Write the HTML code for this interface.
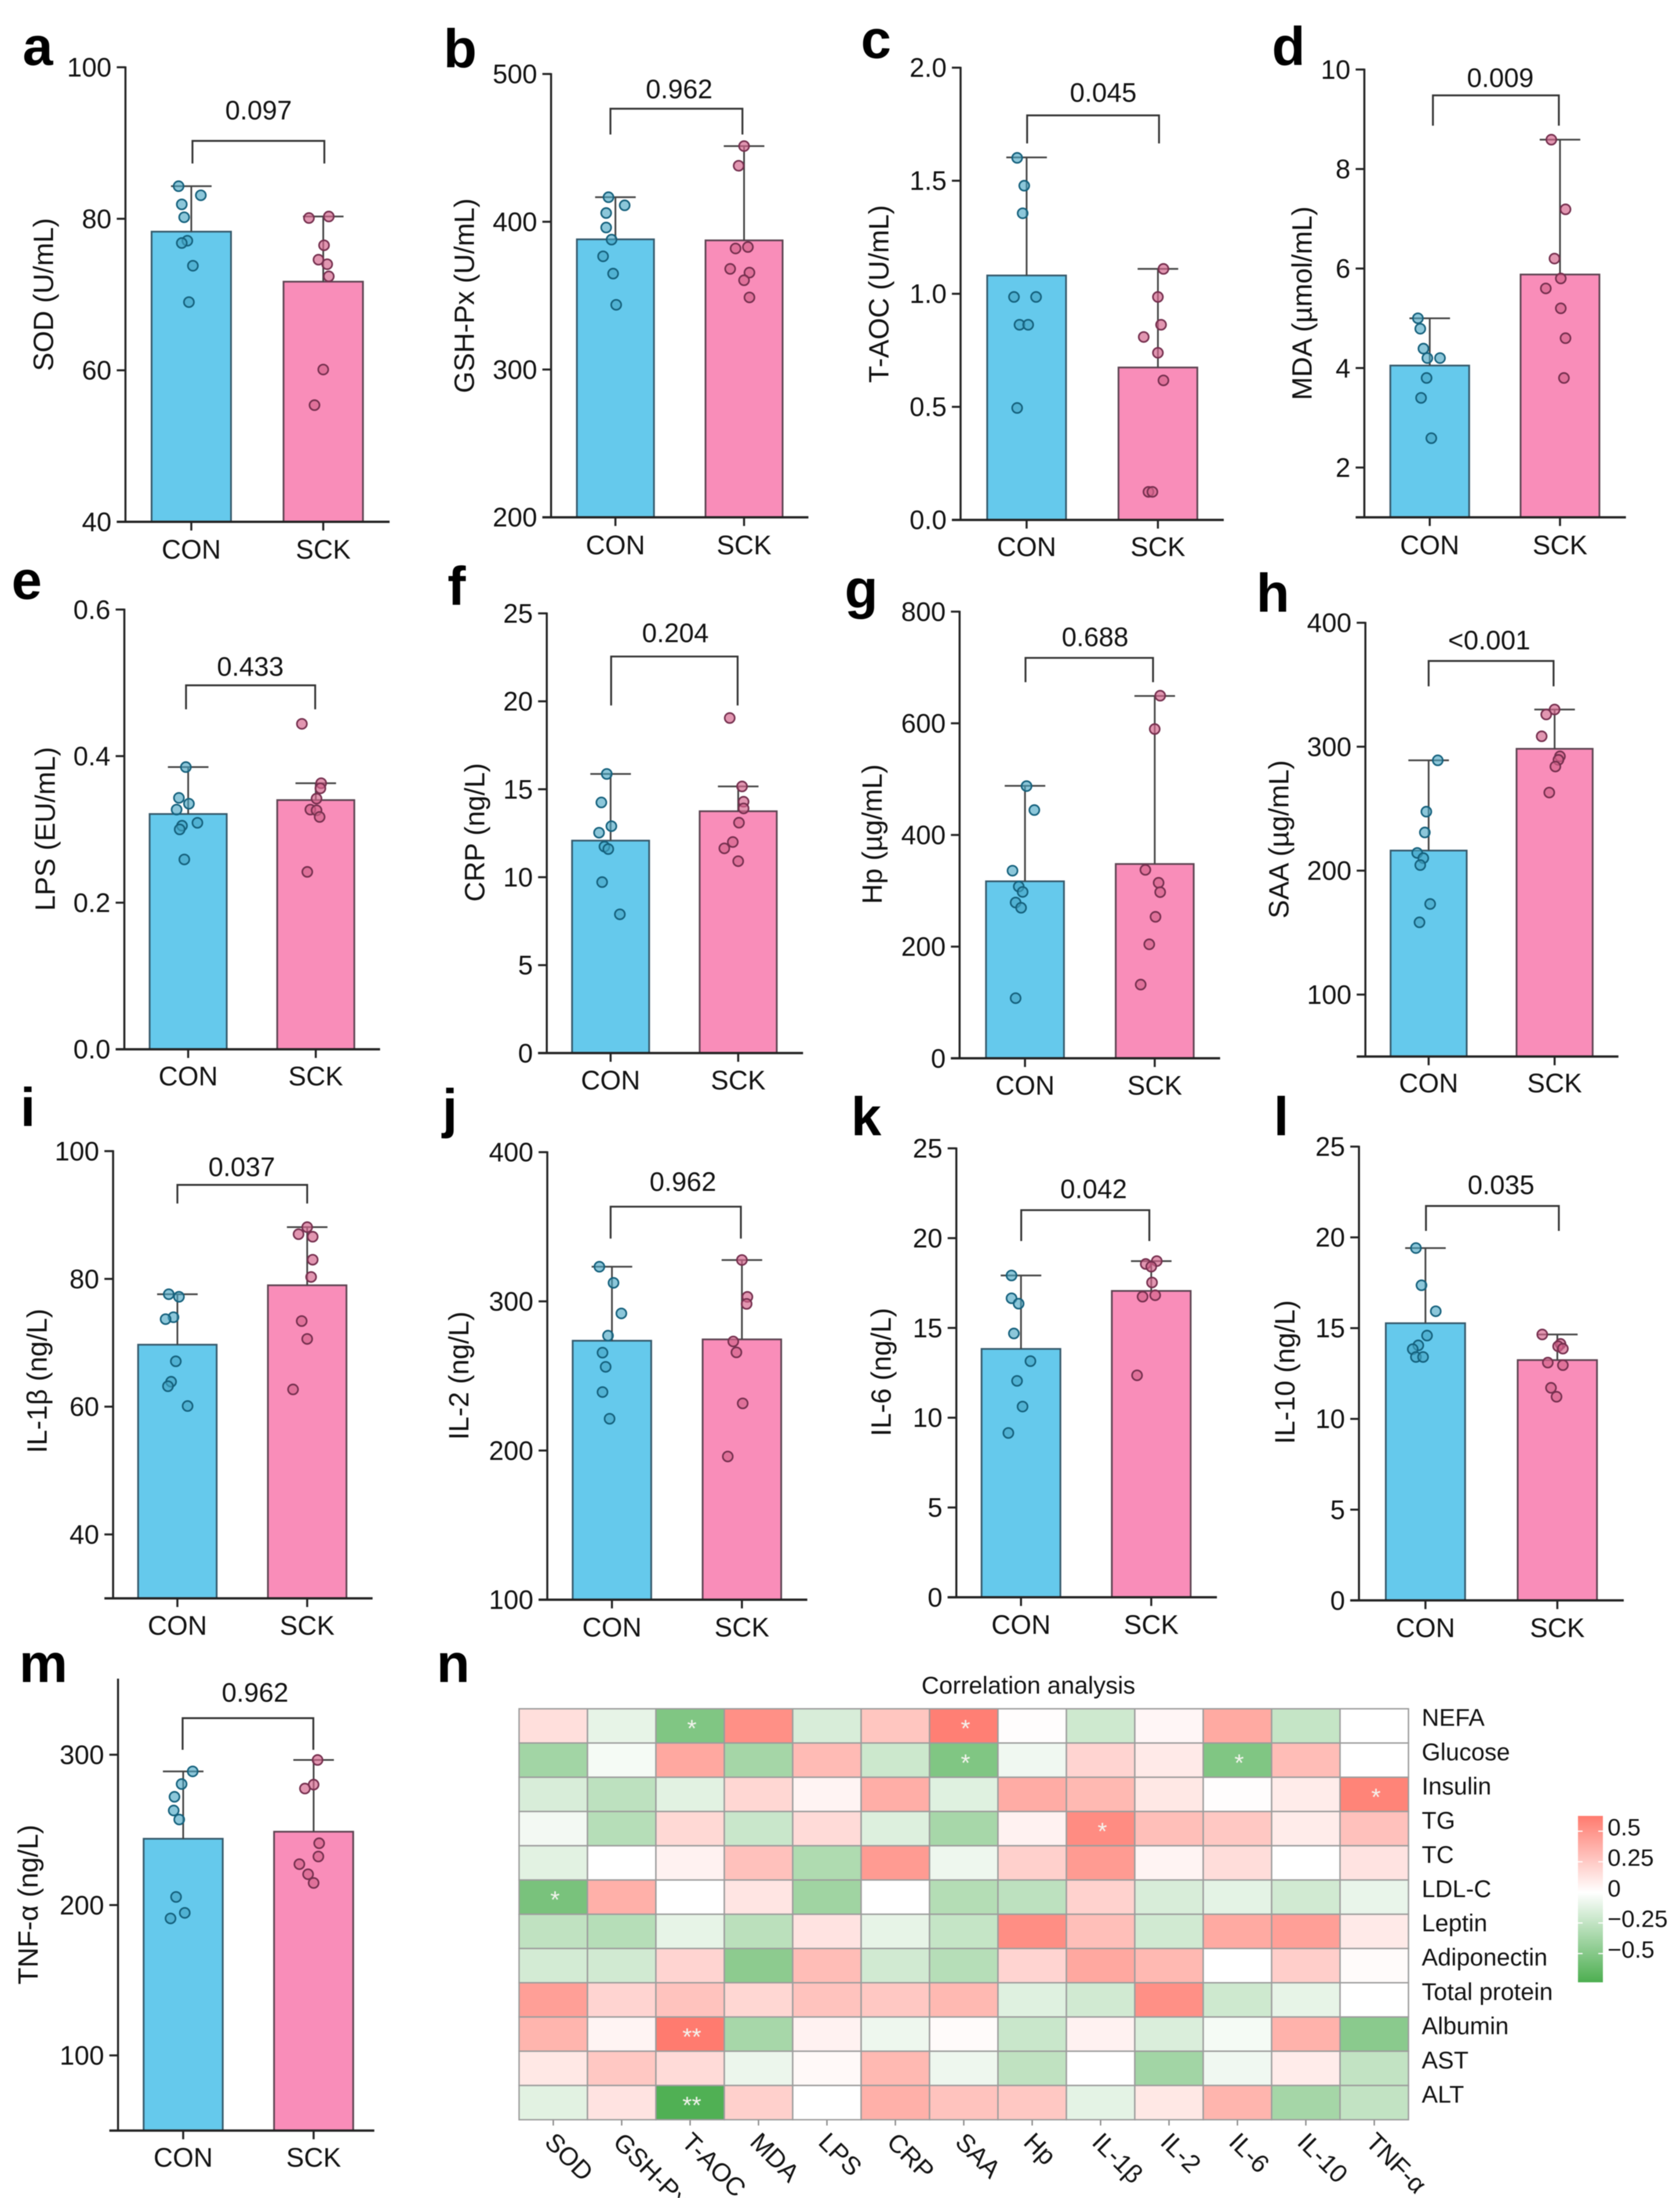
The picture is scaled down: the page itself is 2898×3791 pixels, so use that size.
<!DOCTYPE html>
<html lang="en">
<head>
<meta charset="utf-8">
<title>Serum indicators and correlation analysis</title>
<style>
html,body{margin:0;padding:0;background:#fff;}
svg{display:block;filter:blur(0.7px);}
text{font-family:"Liberation Sans","DejaVu Sans",sans-serif;fill:#111;}
</style>
</head>
<body>
<svg id="figure" xmlns="http://www.w3.org/2000/svg" width="2898" height="3791" viewBox="0 0 2898 3791"></svg>
<script>
const categories = ['CON', 'SCK'];

// a SOD
const sodTicks = [40, 60, 80, 100];
const sodDomain = [40, 100];
const sodMeans = [78.3, 71.7];
const sodErrorTops = [84.3, 80.3];
const sodConPoints = [84.3, 83.1, 81.9, 80.2, 77.1, 76.8, 73.8, 69.0];
const sodSckPoints = [80.1, 80.3, 76.5, 74.6, 74.0, 72.4, 60.1, 55.4];
const sodConJitter = [-.16, .12, -.12, -.09, -.05, -.12, .02, -.03];
const sodSckJitter = [-.18, .07, .01, -.06, .05, .07, 0, -.11];

// b GSH-Px
const gshTicks = [200, 300, 400, 500];
const gshDomain = [200, 500];
const gshMeans = [388.1, 387.4];
const gshErrorTops = [416.6, 451.2];
const gshConPoints = [416.6, 411.1, 405.9, 396.1, 387.9, 376.6, 364.9, 343.8];
const gshSckPoints = [451.2, 437.9, 381.9, 382.9, 368.1, 365.6, 360.4, 348.8];
const gshConJitter = [-.09, .12, -.12, -.12, -.05, -.16, -.03, .01];
const gshSckJitter = [0, -.07, -.11, .05, -.18, .07, 0, .07];

// c T-AOC
const taocTicks = [0, 0.5, 1, 1.5, 2];
const taocDomain = [0, 2];
const taocMeans = [1.081, 0.674];
const taocErrorTops = [1.603, 1.110];
const taocConPoints = [1.601, 1.478, 1.356, .986, .986, .863, .863, .495];
const taocSckPoints = [1.110, .986, .863, .809, .739, .617, .124, .124];
const taocConJitter = [-.12, -.03, -.05, -.16, .12, -.09, .02, -.12];
const taocSckJitter = [.07, 0, .04, -.18, 0, .07, -.12, -.07];

// d MDA
const mdaTicks = [2, 4, 6, 8, 10];
const mdaDomain = [1, 10];
const mdaMeans = [4.05, 5.88];
const mdaErrorTops = [5.0, 8.59];
const mdaConPoints = [5.0, 4.79, 4.39, 4.20, 4.20, 3.80, 3.40, 2.59];
const mdaSckPoints = [8.59, 7.19, 6.20, 5.80, 5.60, 5.20, 4.60, 3.80];
const mdaConJitter = [-.15, -.12, -.08, -.03, .13, -.04, -.11, .02];
const mdaSckJitter = [-.11, .07, -.07, .01, -.18, .01, .07, .05];

// e LPS
const lpsTicks = [0, 0.2, 0.4, 0.6];
const lpsDomain = [0, 0.6];
const lpsMeans = [.321, .340];
const lpsErrorTops = [.385, .363];
const lpsConPoints = [.385, .343, .335, .327, .305, .309, .300, .259];
const lpsSckPoints = [.444, .363, .356, .342, .327, .326, .317, .242];
const lpsConJitter = [-.03, -.12, .01, -.15, -.08, .12, -.11, -.05];
const lpsSckJitter = [-.18, .07, .06, .01, -.07, .01, .05, -.11];

// f CRP
const crpTicks = [0, 5, 10, 15, 20, 25];
const crpDomain = [0, 25];
const crpMeans = [12.08, 13.75];
const crpErrorTops = [15.87, 15.16];
const crpConPoints = [15.87, 14.25, 12.9, 12.53, 11.74, 11.6, 9.72, 7.89];
const crpSckPoints = [19.05, 15.16, 14.29, 13.91, 13.1, 12.0, 11.64, 10.91];
const crpConJitter = [-.05, -.12, .01, -.15, -.08, -.03, -.11, .12];
const crpSckJitter = [-.11, .05, .07, .07, .01, -.07, -.18, 0];

// g Hp
const hpTicks = [0, 200, 400, 600, 800];
const hpDomain = [0, 800];
const hpMeans = [317, 348];
const hpErrorTops = [488, 649];
const hpConPoints = [487.5, 444.6, 336, 307.6, 298, 279, 269.6, 107.7];
const hpSckPoints = [649.4, 589.7, 337.5, 314.4, 297.6, 253.4, 204.2, 132];
const hpConJitter = [.02, .12, -.16, -.08, -.03, -.12, -.05, -.12];
const hpSckJitter = [.07, 0, -.12, .05, .07, .01, -.07, -.18];

// h SAA
const saaTicks = [100, 200, 300, 400];
const saaDomain = [50, 400];
const saaMeans = [216.2, 298.3];
const saaErrorTops = [289, 330];
const saaConPoints = [289, 247.6, 230.8, 214.3, 210.1, 204.5, 173.1, 158.3];
const saaSckPoints = [330, 326, 308.4, 292.2, 289.4, 284, 263];
const saaConJitter = [.12, -.03, -.05, -.15, -.07, -.11, .02, -.12];
const saaSckJitter = [0, -.11, -.17, .07, .05, .01, -.07];

// i IL-1beta
const il1Ticks = [40, 60, 80, 100];
const il1Domain = [30, 100];
const il1Means = [69.7, 79.0];
const il1ErrorTops = [77.6, 88.1];
const il1ConPoints = [77.6, 77.2, 74, 73.7, 67.1, 63.9, 63.2, 60.1];
const il1SckPoints = [88.1, 87, 86.6, 83, 80.3, 73.4, 70.6, 62.7];
const il1ConJitter = [-.11, .02, -.05, -.15, -.02, -.08, -.12, .13];
const il1SckJitter = [0, -.11, .07, .07, .05, -.07, 0, -.18];

// j IL-2
const il2Ticks = [100, 200, 300, 400];
const il2Domain = [100, 400];
const il2Means = [273.6, 274.5];
const il2ErrorTops = [323.2, 327.7];
const il2ConPoints = [323.2, 312.4, 291.9, 277, 265.6, 256.1, 239.2, 221.3];
const il2SckPoints = [327.7, 303, 298.3, 273.1, 265.8, 231.6, 196];
const il2ConJitter = [-.16, .02, .12, -.05, -.12, -.08, -.12, -.03];
const il2SckJitter = [0, .07, .06, -.11, -.07, .01, -.18];

// k IL-6
const il6Ticks = [0, 5, 10, 15, 20, 25];
const il6Domain = [0, 25];
const il6Means = [13.83, 17.06];
const il6ErrorTops = [17.92, 18.72];
const il6ConPoints = [17.92, 16.65, 16.35, 14.69, 13.15, 12.05, 10.62, 9.15];
const il6SckPoints = [18.72, 18.56, 18.41, 17.53, 16.74, 16.82, 12.36];
const il6ConJitter = [-.12, -.12, -.03, -.09, .12, -.05, .02, -.16];
const il6SckJitter = [.07, -.07, 0, .01, -.11, .05, -.18];

// l IL-10
const il10Ticks = [0, 5, 10, 15, 20, 25];
const il10Domain = [0, 25];
const il10Means = [15.27, 13.24];
const il10ErrorTops = [19.41, 14.65];
const il10ConPoints = [19.41, 17.36, 15.93, 14.59, 14.05, 13.84, 13.41, 13.41];
const il10SckPoints = [14.65, 14.13, 14, 13.87, 13.1, 12.96, 11.71, 11.22];
const il10ConJitter = [-.12, -.05, .13, .02, -.09, -.16, -.12, -.03];
const il10SckJitter = [-.19, .04, .01, .07, -.12, .07, -.08, -.01];

// m TNF-alpha
const tnfTicks = [100, 200, 300];
const tnfDomain = [50, 350];
const tnfMeans = [244.1, 248.8];
const tnfErrorTops = [288.9, 296.5];
const tnfConPoints = [288.9, 280.5, 272, 262.9, 256.9, 205.4, 194.8, 191.1];
const tnfSckPoints = [296.5, 280.1, 277.5, 241.1, 232.3, 227.2, 220.5, 214.7];
const tnfConJitter = [.12, -.02, -.11, -.12, -.05, -.09, .02, -.16];
const tnfSckJitter = [.05, 0, -.11, .07, .06, -.18, -.07, 0];

// n heatmap
const heatColumns = ['SOD', 'GSH-Px', 'T-AOC', 'MDA', 'LPS', 'CRP', 'SAA', 'Hp', 'IL-1β', 'IL-2', 'IL-6', 'IL-10', 'TNF-α'];
const heatRows = ['NEFA', 'Glucose', 'Insulin', 'TG', 'TC', 'LDL-C', 'Leptin', 'Adiponectin', 'Total protein', 'Albumin', 'AST', 'ALT'];
const heatNefa = [.15, -.1, -.52, .52, -.16, .27, .6, .01, -.2, .04, .4, -.24, 0];
const heatGlucose = [-.38, -.04, .41, -.37, .32, -.21, -.52, -.06, .2, .1, -.52, .31, 0];
const heatInsulin = [-.16, -.27, -.12, .19, .05, .38, -.13, .39, .33, .11, .01, .09, .58];
const heatTg = [-.05, -.3, .18, -.22, .17, -.14, -.36, .06, .54, .3, .26, .09, .29];
const heatTc = [-.12, 0, .06, .29, -.33, .47, -.07, .22, .47, .05, .16, 0, .13];
const heatLdl = [-.55, .37, 0, .12, -.39, 0, -.31, -.27, .21, -.16, -.11, -.19, -.09];
const heatLeptin = [-.26, -.3, -.1, -.28, .13, -.1, -.24, .53, .3, -.19, .4, .45, .1];
const heatAdiponectin = [-.18, -.19, .2, -.47, .31, -.19, -.3, .2, .41, .33, 0, .23, .02];
const heatProtein = [.45, .2, .28, .19, .28, .26, .33, -.13, -.19, .52, -.2, -.1, 0];
const heatAlbumin = [.35, .05, .62, -.36, .06, -.07, .02, -.22, .06, -.15, -.04, .36, -.48];
const heatAst = [.11, .26, .17, -.08, .03, .33, -.07, -.26, 0, -.38, -.06, .09, -.25];
const heatAlt = [-.12, .13, -.72, .22, 0, .37, .28, .26, -.11, .11, .35, -.37, -.25];
const heatStarRows = ['NEFA', 'NEFA', 'Glucose', 'Glucose', 'Insulin', 'TG', 'LDL-C', 'Albumin', 'ALT'];
const heatStarColumns = ['T-AOC', 'SAA', 'SAA', 'IL-6', 'TNF-α', 'IL-1β', 'SOD', 'T-AOC', 'T-AOC'];
const heatStarMarks = ['*', '*', '*', '*', '*', '*', '*', '**', '**'];
const colorbarTicks = [0.5, 0.25, 0, -0.25, -0.5];
const colorbarLabels = ['0.5', '0.25', '0', '−0.25', '−0.5'];
const colorbarDomain = [-0.735, 0.625];

const NS = 'http://www.w3.org/2000/svg';
const root = document.getElementById('figure');

function mk(tag, parent, attrs, text) {
  const el = document.createElementNS(NS, tag);
  for (const k in attrs) el.setAttribute(k, attrs[k]);
  if (text !== undefined) el.textContent = text;
  parent.appendChild(el);
  return el;
}
function linearScale(domain, range) {
  return v => range[0] + (v - domain[0]) / (domain[1] - domain[0]) * (range[1] - range[0]);
}

const panels = [
 {id:'sod', letter:'a', lx:39, ly:112, title:'SOD (U/mL)', tx:74, ty:508, ticks:sodTicks, domain:sodDomain, dec:0, means:sodMeans, errs:sodErrorTops, con:sodConPoints, sck:sodSckPoints, cj:sodConJitter, sj:sodSckJitter, p:'0.097',
  ax:216.4, y0:900, y1:116, xEnd:672, cx:[330,557.6], bw:137, bx:[332,559.5], bTop:243, bBot:282, px:446, py:190, cy:947},
 {id:'gsh', letter:'b', lx:765, ly:116, title:'GSH-Px (U/mL)', tx:800, ty:510, ticks:gshTicks, domain:gshDomain, dec:0, means:gshMeans, errs:gshErrorTops, con:gshConPoints, sck:gshSckPoints, cj:gshConJitter, sj:gshSckJitter, p:'0.962',
  ax:950.6, y0:892.2, y1:127.6, xEnd:1394.5, cx:[1061.6,1283.5], bw:133, bx:[1053,1280.7], bTop:187.5, bBot:232, px:1171.6, py:153.7, cy:939.4},
 {id:'taoc', letter:'c', lx:1485, ly:100, title:'T-AOC (U/mL)', tx:1515, ty:507, ticks:taocTicks, domain:taocDomain, dec:1, means:taocMeans, errs:taocErrorTops, con:taocConPoints, sck:taocSckPoints, cj:taocConJitter, sj:taocSckJitter, p:'0.045',
  ax:1657, y0:896.7, y1:116.7, xEnd:2111, cx:[1770.9,1997.4], bw:136, bx:[1771.8,1999.3], bTop:199, bBot:247.4, px:1903, py:159.4, cy:942.6},
 {id:'mda', letter:'d', lx:2194, ly:112, title:'MDA (µmol/mL)', tx:2245, ty:523, ticks:mdaTicks, domain:mdaDomain, dec:0, means:mdaMeans, errs:mdaErrorTops, con:mdaConPoints, sck:mdaSckPoints, cj:mdaConJitter, sj:mdaSckJitter, p:'0.009',
  ax:2353.5, y0:892.2, y1:119.9, xEnd:2804.7, cx:[2466.3,2691], bw:136, bx:[2471.8,2689], bTop:164.5, bBot:216.8, px:2588, py:134, cy:939.4},
 {id:'lps', letter:'e', lx:20, ly:1033, title:'LPS (EU/mL)', tx:77, ty:1429.6, ticks:lpsTicks, domain:lpsDomain, dec:1, means:lpsMeans, errs:lpsErrorTops, con:lpsConPoints, sck:lpsSckPoints, cj:lpsConJitter, sj:lpsSckJitter, p:'0.433',
  ax:214.5, y0:1809.7, y1:1051.3, xEnd:655.6, cx:[324.6,544.7], bw:133, bx:[320.9,543.7], bTop:1182, bBot:1223.4, px:431.8, py:1149.7, cy:1855.3},
 {id:'crp', letter:'f', lx:772, ly:1043, title:'CRP (ng/L)', tx:818, ty:1435.6, ticks:crpTicks, domain:crpDomain, dec:0, means:crpMeans, errs:crpErrorTops, con:crpConPoints, sck:crpSckPoints, cj:crpConJitter, sj:crpSckJitter, p:'0.204',
  ax:943.2, y0:1816.3, y1:1057.9, xEnd:1385.3, cx:[1053.3,1273.4], bw:133, bx:[1054.2,1272.4], bTop:1132.3, bBot:1216.8, px:1165, py:1091.5, cy:1862.5},
 {id:'hp', letter:'g', lx:1457, ly:1048, title:'Hp (µg/mL)', tx:1503.6, ty:1438.6, ticks:hpTicks, domain:hpDomain, dec:0, means:hpMeans, errs:hpErrorTops, con:hpConPoints, sck:hpSckPoints, cj:hpConJitter, sj:hpSckJitter, p:'0.688',
  ax:1655.3, y0:1825.3, y1:1054.9, xEnd:2104.7, cx:[1768.1,1991.9], bw:134.5, bx:[1769,1989], bTop:1134.7, bBot:1176.6, px:1889, py:1098.7, cy:1871.5},
 {id:'saa', letter:'h', lx:2167, ly:1055, title:'SAA (µg/mL)', tx:2205, ty:1447.6, ticks:saaTicks, domain:saaDomain, dec:0, means:saaMeans, errs:saaErrorTops, con:saaConPoints, sck:saaSckPoints, cj:saaConJitter, sj:saaSckJitter, p:'<0.001',
  ax:2355.3, y0:1822.3, y1:1074.1, xEnd:2791.8, cx:[2464.4,2681.7], bw:131.3, bx:[2464.4,2679.9], bTop:1140, bBot:1183.8, px:2568.9, py:1104, cy:1867.3},
 {id:'il1', letter:'i', lx:35, ly:1942, title:'IL-1β (ng/L)', tx:63, ty:2381.7, ticks:il1Ticks, domain:il1Domain, dec:0, means:il1Means, errs:il1ErrorTops, con:il1ConPoints, sck:il1SckPoints, cj:il1ConJitter, sj:il1SckJitter, p:'0.037',
  ax:195.1, y0:2756.7, y1:1985.4, xEnd:642.7, cx:[306,529.9], bw:135.5, bx:[306,529.9], bTop:2043.6, bBot:2075.7, px:417, py:2012.7, cy:2802.8},
 {id:'il2', letter:'j', lx:763, ly:1944, title:'IL-2 (ng/L)', tx:790.6, ty:2372.6, ticks:il2Ticks, domain:il2Domain, dec:0, means:il2Means, errs:il2ErrorTops, con:il2ConPoints, sck:il2SckPoints, cj:il2ConJitter, sj:il2SckJitter, p:'0.962',
  ax:944.1, y0:2759.1, y1:1987.2, xEnd:1392.6, cx:[1055.6,1279.8], bw:135.5, bx:[1053.3,1278], bTop:2081.2, bBot:2136.3, px:1178, py:2038, cy:2805.8},
 {id:'il6', letter:'k', lx:1468, ly:1958, title:'IL-6 (ng/L)', tx:1519, ty:2366.5, ticks:il6Ticks, domain:il6Domain, dec:0, means:il6Means, errs:il6ErrorTops, con:il6ConPoints, sck:il6SckPoints, cj:il6ConJitter, sj:il6SckJitter, p:'0.042',
  ax:1649.7, y0:2754.9, y1:1980.6, xEnd:2099.2, cx:[1761.2,1985.9], bw:136, bx:[1761.6,1982.6], bTop:2087.2, bBot:2140.5, px:1886.5, py:2050.3, cy:2801.5},
 {id:'il10', letter:'l', lx:2197, ly:1958, title:'IL-10 (ng/L)', tx:2215.7, ty:2366.5, ticks:il10Ticks, domain:il10Domain, dec:0, means:il10Means, errs:il10ErrorTops, con:il10ConPoints, sck:il10SckPoints, cj:il10ConJitter, sj:il10SckJitter, p:'0.035',
  ax:2344.2, y0:2760.3, y1:1977.6, xEnd:2801, cx:[2458.9,2686.4], bw:136.8, bx:[2459.8,2689], bTop:2080, bBot:2123, px:2589.3, py:2043.6, cy:2807},
 {id:'tnf', letter:'m', lx:33, ly:2901, title:'TNF-α (ng/L)', tx:47.5, ty:3285, ticks:tnfTicks, domain:tnfDomain, dec:0, means:tnfMeans, errs:tnfErrorTops, con:tnfConPoints, sck:tnfSckPoints, cj:tnfConJitter, sj:tnfSckJitter, p:'0.962',
  ax:203.6, y0:3674.7, y1:2896.8, xEnd:645.7, cx:[316,541], bw:136.5, bx:[315,540.5], bTop:2963.4, bBot:3018, px:440, py:2919, cy:3720.3}
];

const AXIS = '#222';
const barFills = ['#65C9EC', '#F98DB9'];
const barStrokes = ['#35596b', '#5d4452'];
const ptFills = ['rgba(70,165,195,.62)', 'rgba(212,100,140,.68)'];
const ptStrokes = ['#14607c', '#752f4e'];

panels.forEach(P => {
  const y = linearScale(P.domain, [P.y0, P.y1]);
  const g = mk('g', root, {});
  
  

  const letter = mk('text', g, {x:P.lx, y:P.ly, 'font-size':94, 'font-weight':'bold', fill:'#000', style:'fill:#000'}, P.letter);
  
  

  // bars, error bars, points
  categories.forEach((cat, i) => {
    const pts = i === 0 ? P.con : P.sck;
    const jit = i === 0 ? P.cj : P.sj;
    const c = P.cx[i];
    const bar = mk('rect', g, {x:c - P.bw / 2, y:y(P.means[i]), width:P.bw, height:Math.max(0, P.y0 - y(P.means[i])), fill:barFills[i], stroke:barStrokes[i], 'stroke-width':3});
    
    

    const stem = mk('line', g, {x1:c, x2:c, y1:y(P.means[i]), y2:y(P.errs[i]), stroke:'#444', 'stroke-width':3});
    
    

    const cap = mk('line', g, {x1:c - 35, x2:c + 35, y1:y(P.errs[i]), y2:y(P.errs[i]), stroke:'#444', 'stroke-width':3});
    
    

    pts.forEach((v, k) => {
      const pt = mk('circle', g, {cx:c + jit[k] * P.bw, cy:y(v), r:8.6, fill:ptFills[i], stroke:ptStrokes[i], 'stroke-width':2.8});
      
      
    });
  });

  // y axis
  const yAxis = mk('line', g, {x1:P.ax, x2:P.ax, y1:P.y0 + 1.5, y2:P.y1 - 1.5, stroke:AXIS, 'stroke-width':3.5});
  
  

  P.ticks.forEach(t => {
    const tick = mk('line', g, {x1:P.ax - 15, x2:P.ax, y1:y(t), y2:y(t), stroke:AXIS, 'stroke-width':3.5});
    
    
    const lab = mk('text', g, {x:P.ax - 24, y:y(t) + 16, 'text-anchor':'end', 'font-size':46}, t.toFixed(P.dec));
    
    
  });

  // x axis
  const xAxis = mk('line', g, {x1:P.ax - 15, x2:P.xEnd, y1:P.y0, y2:P.y0, stroke:AXIS, 'stroke-width':4});
  
  

  categories.forEach((cat, i) => {
    const tick = mk('line', g, {x1:P.cx[i], x2:P.cx[i], y1:P.y0, y2:P.y0 + 15, stroke:AXIS, 'stroke-width':3.5});
    
    
    const lab = mk('text', g, {x:P.cx[i], y:P.cy + 16.5, 'text-anchor':'middle', 'font-size':46}, cat);
    
    
  });

  // y title
  const title = mk('text', g, {x:P.tx, y:P.ty, dy:'.36em', 'text-anchor':'middle', 'font-size':48, transform:'rotate(-90 ' + P.tx + ' ' + P.ty + ')'}, P.title);
  
  

  // significance bracket
  const bracket = mk('path', g, {d:'M' + P.bx[0] + ' ' + P.bBot + 'V' + P.bTop + 'H' + P.bx[1] + 'V' + P.bBot, fill:'none', stroke:'#333', 'stroke-width':3.2});
  
  

  const pval = mk('text', g, {x:P.px, y:P.py + 16, 'text-anchor':'middle', 'font-size':46}, P.p);
  
  
});

// ---------- Heatmap panel n ----------
const heatMatrix = [heatNefa, heatGlucose, heatInsulin, heatTg, heatTc, heatLdl, heatLeptin, heatAdiponectin, heatProtein, heatAlbumin, heatAst, heatAlt];
const hm = {x0:895.4, x1:2429.6, y0:2947.2, y1:3656};
const cellW = (hm.x1 - hm.x0) / heatColumns.length;
const cellH = (hm.y1 - hm.y0) / heatRows.length;
const colX = i => hm.x0 + cellW * i;
const rowY = i => hm.y0 + cellH * i;
const RED = [255, 122, 110];
const GREEN = [76, 174, 80];
function heatColor(v) {
  const end = v >= 0 ? RED : GREEN;
  const t = Math.min(1, v >= 0 ? v / colorbarDomain[1] : v / colorbarDomain[0]);
  const ch = c => Math.round(255 + (c - 255) * t);
  return 'rgb(' + ch(end[0]) + ',' + ch(end[1]) + ',' + ch(end[2]) + ')';
}

const hg = mk('g', root, {});



const nLetter = mk('text', hg, {x:753, y:2901, 'font-size':94, 'font-weight':'bold', style:'fill:#000'}, 'n');



const hTitle = mk('text', hg, {x:1774, y:2921, 'text-anchor':'middle', 'font-size':42}, 'Correlation analysis');



heatRows.forEach((rowName, r) => {
  heatColumns.forEach((colName, c) => {
    const cell = mk('rect', hg, {x:colX(c), y:rowY(r), width:cellW, height:cellH, fill:heatColor(heatMatrix[r][c]), stroke:'#9c9c9c', 'stroke-width':2.4});
    
    
  });
  const lab = mk('text', hg, {x:2452.5, y:rowY(r) + cellH / 2, 'font-size':41.5}, rowName);
  
  
});

heatStarMarks.forEach((mark, i) => {
  const r = heatRows.indexOf(heatStarRows[i]);
  const c = heatColumns.indexOf(heatStarColumns[i]);
  const star = mk('text', hg, {x:colX(c) + cellW / 2 + 3, y:rowY(r) + cellH / 2 + 19, 'text-anchor':'middle', 'font-size':42, style:'fill:#f4f4ee'}, mark);
  
  
});

heatColumns.forEach((colName, c) => {
  const cx = colX(c) + cellW / 2;
  const tick = mk('line', hg, {x1:cx, x2:cx, y1:hm.y1 + 1, y2:hm.y1 + 10, stroke:'#8a8a8a', 'stroke-width':2.4});
  
  
  const bx = cx - 17;
  const by = hm.y1 + 41;
  const lab = mk('text', hg, {x:bx, y:by, 'font-size':44, transform:'rotate(45 ' + bx + ' ' + by + ')'}, colName);
  
  
});

// colorbar
const cb = {x:2722, w:43, top:3132, bottom:3419};
const cbY = linearScale(colorbarDomain, [cb.bottom, cb.top]);
const defs = mk('defs', hg, {});
const grad = mk('linearGradient', defs, {id:'cbGrad', x1:0, y1:0, x2:0, y2:1});
[colorbarDomain[1], 0, colorbarDomain[0]].forEach(v => {
  mk('stop', grad, {offset:(cbY(v) - cb.top) / (cb.bottom - cb.top), 'stop-color':heatColor(v)});
});
const cbRect = mk('rect', hg, {x:cb.x, y:cb.top, width:cb.w, height:cb.bottom - cb.top, fill:'url(#cbGrad)'});


colorbarTicks.forEach((t, i) => {
  const l = mk('line', hg, {x1:cb.x, x2:cb.x + 8, y1:cbY(t), y2:cbY(t), stroke:'#fff', 'stroke-width':2});
  
  
  const r = mk('line', hg, {x1:cb.x + cb.w - 8, x2:cb.x + cb.w, y1:cbY(t), y2:cbY(t), stroke:'#fff', 'stroke-width':2});
  
  
  const lab = mk('text', hg, {x:2773, y:cbY(t) + 7, 'font-size':41}, colorbarLabels[i]);
  
  
});
</script>
</body>
</html>
